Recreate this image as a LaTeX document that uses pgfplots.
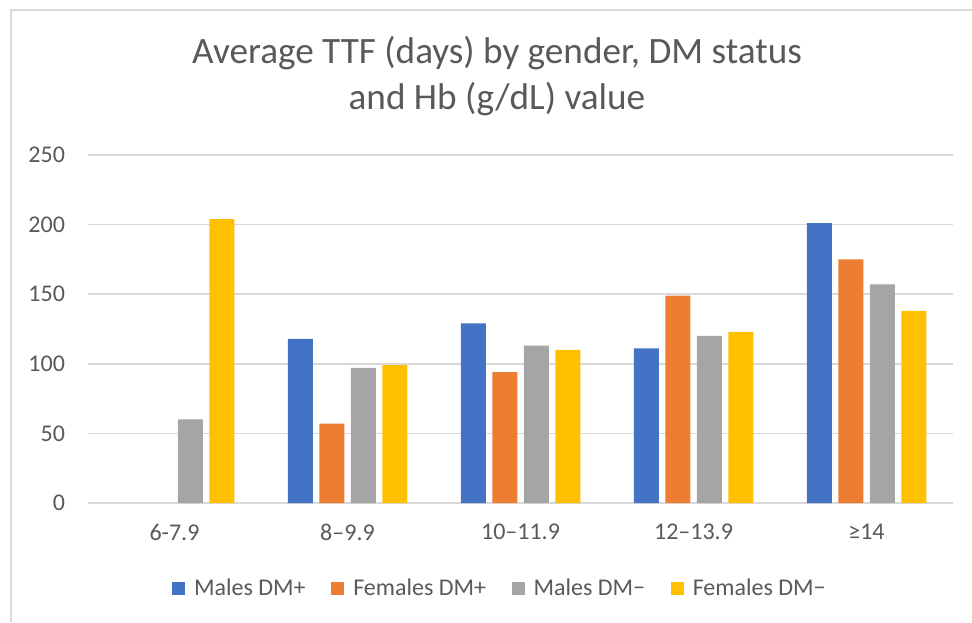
\documentclass[border=0pt]{standalone}
\usepackage{fontspec}
\setmainfont{Carlito}
\usepackage{pgfplots}
\pgfplotsset{compat=1.18}

\definecolor{cblue}{HTML}{4472C4}
\definecolor{corange}{HTML}{ED7D31}
\definecolor{cgray}{HTML}{A5A5A5}
\definecolor{cyellow}{HTML}{FFC000}
\definecolor{txt}{HTML}{595959}
\definecolor{gridc}{HTML}{D9D9D9}

\pgfplotsset{sqleg/.style={legend image code/.code={\fill[##1,draw=none] (0pt,-3.25pt) rectangle (6.5pt,3.25pt); \path (9pt,0pt);}}}

\begin{document}
\begin{tikzpicture}
% frame and bounding box (1px = 0.5pt)
\useasboundingbox (-44pt,-59.5pt) rectangle (442pt,251.5pt);
\draw[gridc, line width=0.75pt] (-38.5pt,-59.5pt) -- (-38.5pt,246.5pt) -- (442pt,246.5pt);
\begin{axis}[
    scale only axis,
    width=432.5pt, height=174pt,
    xmin=-0.5, xmax=4.5,
    ymin=0, ymax=250,
    ytick={0,50,...,250},
    xtick={0,1,2,3,4},
    xticklabels={6-7.9, 8–9.9, 10–11.9, 12–13.9, ≥14},
    axis line style={draw=none},
    major tick length=0pt,
    ymajorgrids=true,
    grid style={gridc, line width=0.75pt},
    tick label style={font=\fontsize{12}{14}\selectfont, text=txt},
    /pgf/number format/assume math mode=true,
    yticklabel style={xshift=-8pt},
    xticklabel style={yshift=-7pt},
    ybar=3.25pt, bar width=12.5pt,
    every axis plot post/.append style={sqleg},
    legend columns=4,
    legend style={at={(0.4773,-0.247)}, anchor=center, draw=none, fill=none,
        font=\fontsize{12}{14}\selectfont, text=txt,
        /tikz/every even column/.append style={column sep=10.8pt}},
]
\addplot[fill=cblue, draw=none] coordinates {(1,118) (2,129) (3,111) (4,201)};
\addplot[fill=corange, draw=none] coordinates {(1,57) (2,94) (3,149) (4,175)};
\addplot[fill=cgray, draw=none] coordinates {(0,60) (1,97) (2,113) (3,120) (4,157)};
\addplot[fill=cyellow, draw=none] coordinates {(0,204) (1,99) (2,110) (3,123) (4,138)};
\legend{Males DM+, Females DM+, Males DM−, Females DM−}
\end{axis}
\node[align=center, text=txt, font=\fontsize{18.6}{23.25}\selectfont] at (204.5pt,213.5pt)
    {Average TTF (days) by gender, DM status\\and Hb (g/dL) value};
\end{tikzpicture}
\end{document}
